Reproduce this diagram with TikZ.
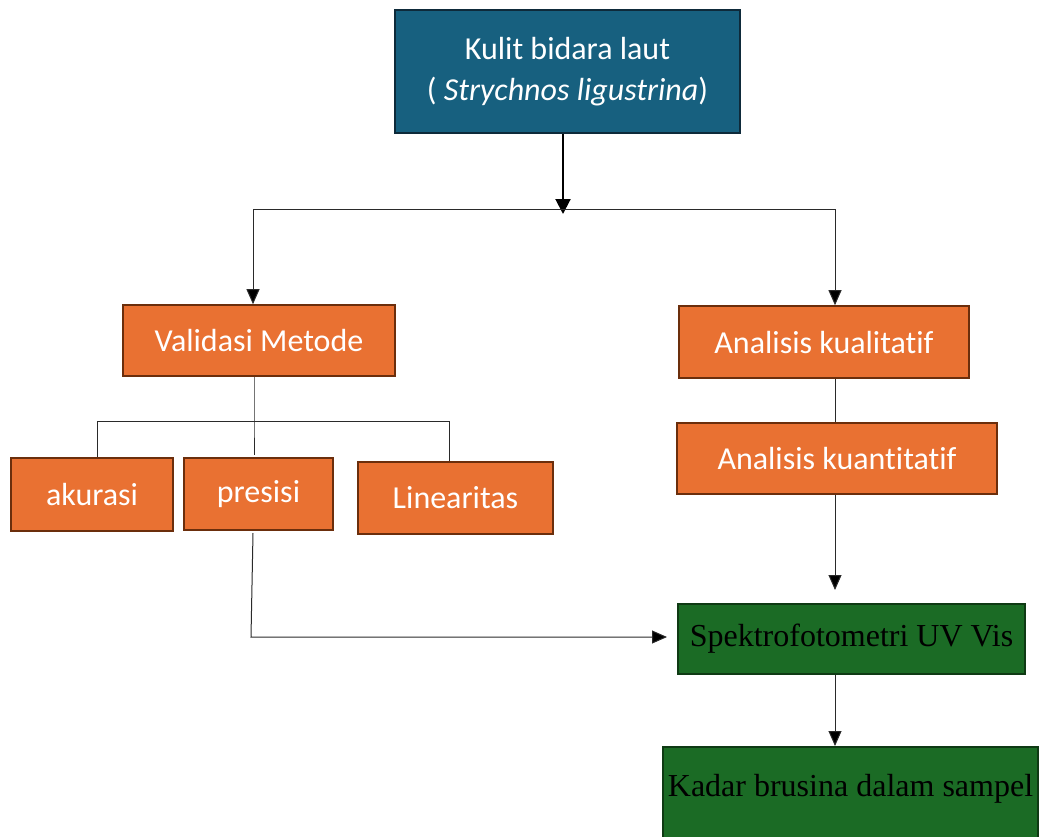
\documentclass[tikz,border=0pt]{standalone}
\usepackage{fontspec}
\setmainfont{Liberation Serif}
\newfontfamily\calfont[Ligatures=NoCommon]{Carlito}
\usetikzlibrary{arrows.meta}
\definecolor{bluefill}{HTML}{17607F}
\definecolor{blueline}{HTML}{0E2A3A}
\definecolor{orfill}{HTML}{E97132}
\definecolor{orline}{HTML}{6B2E0C}
\definecolor{grfill}{HTML}{1B6B25}
\definecolor{grline}{HTML}{0F3A14}
\definecolor{conn}{HTML}{2A2A2A}
\tikzset{
  box/.style={draw, line width=1.6pt, inner sep=0pt, align=center},
  bluebox/.style={box, fill=bluefill, draw=blueline, text=white, font=\calfont\fontsize{32}{41}\selectfont},
  orbox/.style={box, fill=orfill, draw=orline, text=white, font=\calfont\fontsize{32}{36}\selectfont},
  grbox/.style={box, fill=grfill, draw=grline, text=black, font=\fontsize{32}{36}\selectfont},
  link/.style={draw=conn, line width=1pt},
  arr/.style={link, -{Triangle[length=15pt,width=13pt,fill=black]}},
  bigarr/.style={draw=black, line width=2pt, -{Triangle[length=15pt,width=15pt]}}
}
\begin{document}
\begin{tikzpicture}[x=1pt,y=-1pt]
\useasboundingbox (0,0) rectangle (1040,836);
% nodes
\node[bluebox, minimum width=345pt, minimum height=123pt] (top) at (567.5,71.5)
  {Kulit bidara laut\\( \textit{Strychnos ligustrina})};
\node[orbox, minimum width=272pt, minimum height=71pt] (val) at (259,340.5) {Validasi Metode};
\node[orbox, minimum width=290pt, minimum height=72pt] (kual) at (824,342) {Analisis kualitatif};
\node[orbox, minimum width=320pt, minimum height=71pt] (kuan) at (837,458.5) {Analisis kuantitatif};
\node[orbox, minimum width=162pt, minimum height=73pt] (aku) at (92,494.5) {akurasi};
\node[orbox, minimum width=149pt, minimum height=72pt] (pre) at (258.5,494) {presisi};
\node[orbox, minimum width=195pt, minimum height=72pt] (lin) at (455.5,498) {Linearitas};
\node[grbox, minimum width=347pt, minimum height=70pt] (spek) at (851.5,639) {Spektrofotometri UV Vis};
\node[grbox, anchor=north, minimum width=375pt, text height=50pt, text depth=42pt] (kad) at (850.5,746) {Kadar brusina dalam sampel};
% coordinates
\coordinate (t1) at (563,209);
\coordinate (sl) at (253,209);
\coordinate (sr) at (835,209);
\coordinate (v1) at (254,421);
\coordinate (vl) at (97,421);
\coordinate (vr) at (449,421);
\coordinate (vend) at (254,455);
\coordinate (p0) at (253,533);
\coordinate (p1) at (251,637);
\coordinate (p2) at (667,637);
\coordinate (k2) at (835,590);
% connectors
\draw[bigarr] (top.south -| t1) -- ([yshift=-5pt]t1);
\draw[link] (sl) -- (sr);
\draw[arr] (sl) -- (sl |- val.north);
\draw[arr] (sr) -- (sr |- kual.north);
\draw[link] (val.south -| v1) -- (v1) -- (vend);
\draw[link] (vl) -- (vr);
\draw[link] (vl) -- (vl |- aku.north);
\draw[link] (vr) -- (vr |- lin.north);
\draw[link] (kual.south -| sr) -- (kuan.north -| sr);
\draw[arr] (kuan.south -| sr) -- (k2);
\draw[arr] (p0) -- (p1) -- (p2);
\draw[arr] (spek.south -| sr) -- (kad.north -| sr);
\end{tikzpicture}
\end{document}
